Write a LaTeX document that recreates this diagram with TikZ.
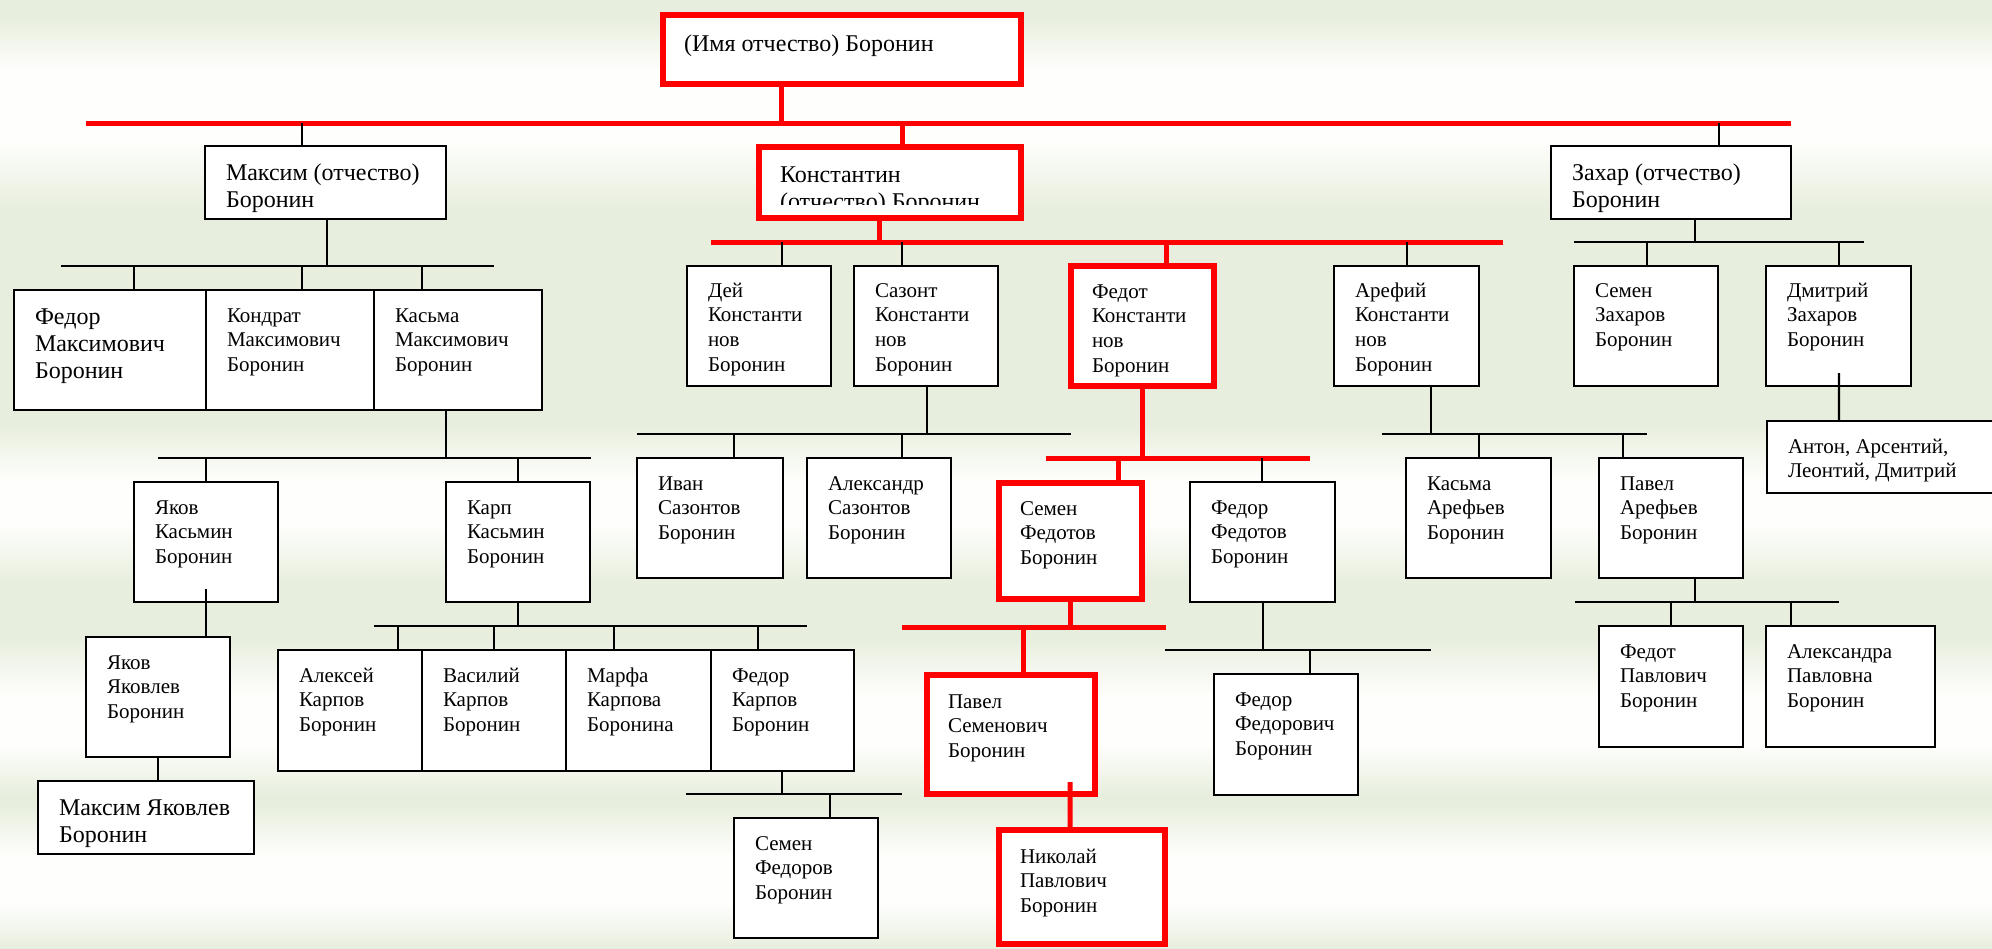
\documentclass[tikz,border=0pt]{standalone}
\usepackage{fontspec}
\setmainfont{Liberation Serif}
\definecolor{bggreen}{RGB}{231,238,221}
\definecolor{bglight}{RGB}{242,246,236}
\definecolor{bgwhite}{RGB}{254,254,252}
\newlength{\padl}
\setlength{\padl}{10.5bp}
% box text: width, height, first baseline, lines
\newcommand{\who}[4]{\parbox[c][#2][t]{#1}{\raggedright\leftskip=\padl
  \vspace*{\dimexpr#3-\ht\strutbox\relax}\strut#4}}
\begin{document}
\begin{tikzpicture}[
  person/.style={draw=black,line width=1.1bp,fill=white,inner sep=0pt,outer sep=0pt,
    anchor=north west,font=\fontsize{10.5bp}{12.4bp}\selectfont},
  heir/.style={person,draw=red,line width=3bp},
  big/.style={font=\fontsize{12bp}{13.6bp}\selectfont},
  kin/.style={black,line width=1.1bp},
  heirline/.style={red,line width=2.5bp},
  rampdown/.style={top color=bggreen,bottom color=bgwhite},
  rampup/.style={top color=bgwhite,bottom color=bggreen},
]
\useasboundingbox (0bp,0bp) rectangle (996bp,-474.5bp);
\clip (0bp,0bp) rectangle (996bp,-474.5bp);
%% background
\fill [bggreen] (0bp,0bp) rectangle (996bp,-474.5bp);
\shade [rampdown] (0bp,-8bp) rectangle (996bp,-35bp);
\fill [bgwhite] (0bp,-34.8bp) rectangle (996bp,-70.2bp);
\shade [rampup] (0bp,-70bp) rectangle (996bp,-105bp);
\shade [top color=bggreen,middle color=bglight,bottom color=bggreen] (0bp,-145bp) rectangle (996bp,-210bp);
\shade [rampdown] (0bp,-212bp) rectangle (996bp,-240bp);
\fill [bgwhite] (0bp,-239.8bp) rectangle (996bp,-262.2bp);
\shade [rampup] (0bp,-262bp) rectangle (996bp,-292bp);
\shade [rampdown] (0bp,-318bp) rectangle (996bp,-348bp);
\fill [bgwhite] (0bp,-347.8bp) rectangle (996bp,-372.2bp);
\shade [rampup] (0bp,-372bp) rectangle (996bp,-398bp);
\shade [rampdown] (0bp,-402bp) rectangle (996bp,-428bp);
\fill [bgwhite] (0bp,-427.8bp) rectangle (996bp,-452.2bp);
\shade [rampup] (0bp,-452bp) rectangle (996bp,-474.5bp);
%%
\node (node_root) at (331.5bp,-7.5bp) [heir,big] {\who{179bp}{34.5bp}{18bp}{(Имя отчество) Боронин}};
%
\node (node_maksim) at (102.5bp,-73bp) [person,big] {\who{120.5bp}{36.5bp}{17bp}{Максим (отчество)\\Боронин}};
\node (node_konst) at (379.5bp,-73.5bp) [heir,big] {\who{131bp}{35.5bp}{17.5bp}{Константин\\(отчество) Боронин}};
\node (node_zakhar) at (775.5bp,-73bp) [person,big] {\who{120bp}{36.5bp}{17bp}{Захар (отчество)\\Боронин}};
\fill [white] ([shift={(1.5bp,1.5bp)}]node_konst.south west) rectangle ([shift={(-1.5bp,6.5bp)}]node_konst.south east);
%
\node (node_fedor_m) at (7bp,-145bp) [person,big] {\who{96bp}{60bp}{17bp}{Федор\\Максимович\\Боронин}};
\node (node_kondrat) at (103bp,-145bp) [person] {\who{84bp}{60bp}{16bp}{Кондрат\\Максимович\\Боронин}};
\node (node_kasma_m) at (187bp,-145bp) [person] {\who{84bp}{60bp}{16bp}{Касьма\\Максимович\\Боронин}};
\node (node_dey) at (343.5bp,-133bp) [person] {\who{72bp}{60bp}{15.5bp}{Дей\\Константи\\нов\\Боронин}};
\node (node_sazont) at (427bp,-133bp) [person] {\who{72bp}{60bp}{15.5bp}{Сазонт\\Константи\\нов\\Боронин}};
\node (node_fedot_k) at (535.5bp,-133bp) [heir] {\who{71.5bp}{60bp}{16bp}{Федот\\Константи\\нов\\Боронин}};
\node (node_arefiy) at (667bp,-133bp) [person] {\who{72.5bp}{60bp}{15.5bp}{Арефий\\Константи\\нов\\Боронин}};
\node (node_semen_z) at (787bp,-133bp) [person] {\who{72bp}{60bp}{15.5bp}{Семен\\Захаров\\Боронин}};
\node (node_dmitriy_z) at (883bp,-133bp) [person] {\who{72.5bp}{60bp}{15.5bp}{Дмитрий\\Захаров\\Боронин}};
%
\node (node_yakov_k) at (67bp,-241bp) [person] {\who{72bp}{60bp}{16bp}{Яков\\Касьмин\\Боронин}};
\node (node_karp_k) at (223bp,-241bp) [person] {\who{72bp}{60bp}{16bp}{Карп\\Касьмин\\Боронин}};
\node (node_ivan) at (318.5bp,-229bp) [person] {\who{73bp}{60bp}{16bp}{Иван\\Сазонтов\\Боронин}};
\node (node_aleksandr) at (403.5bp,-229bp) [person] {\who{72bp}{60bp}{16bp}{Александр\\Сазонтов\\Боронин}};
\node (node_semen_f) at (499.5bp,-241.5bp) [heir] {\who{71.5bp}{58bp}{16bp}{Семен\\Федотов\\Боронин}};
\node (node_fedor_f) at (595bp,-241bp) [person] {\who{72.5bp}{60bp}{16bp}{Федор\\Федотов\\Боронин}};
\node (node_kasma_a) at (703bp,-229bp) [person] {\who{72.5bp}{60bp}{16bp}{Касьма\\Арефьев\\Боронин}};
\node (node_pavel_a) at (799.5bp,-229bp) [person] {\who{72bp}{60bp}{16bp}{Павел\\Арефьев\\Боронин}};
\node (node_anton) at (883.5bp,-210.5bp) [person] {\who{125bp}{36bp}{16bp}{Антон, Арсентий,\\Леонтий, Дмитрий}};
%
\node (node_yakov_y) at (43bp,-318.5bp) [person] {\who{72bp}{60bp}{16bp}{Яков\\Яковлев\\Боронин}};
\node (node_aleksey) at (139bp,-325bp) [person] {\who{72bp}{60.5bp}{16bp}{Алексей\\Карпов\\Боронин}};
\node (node_vasiliy) at (211bp,-325bp) [person] {\who{72bp}{60.5bp}{16bp}{Василий\\Карпов\\Боронин}};
\node (node_marfa) at (283bp,-325bp) [person] {\who{72.5bp}{60.5bp}{16bp}{Марфа\\Карпова\\Боронина}};
\node (node_fedor_kp) at (355.5bp,-325bp) [person] {\who{71.5bp}{60.5bp}{16bp}{Федор\\Карпов\\Боронин}};
\node (node_pavel_s) at (463.5bp,-337.5bp) [heir] {\who{84bp}{59.5bp}{16.5bp}{Павел\\Семенович\\Боронин}};
\node (node_fedor_fed) at (607bp,-337bp) [person] {\who{72bp}{60.5bp}{16bp}{Федор\\Федорович\\Боронин}};
\node (node_fedot_p) at (799.5bp,-313bp) [person] {\who{72bp}{60.5bp}{16bp}{Федот\\Павлович\\Боронин}};
\node (node_aleksandra) at (883bp,-313bp) [person] {\who{84.5bp}{60.5bp}{16bp}{Александра\\Павловна\\Боронин}};
%
\node (node_maksim_ya) at (19bp,-390.5bp) [person,big] {\who{108bp}{36.5bp}{17bp}{Максим Яковлев\\Боронин}};
\node (node_semen_fed) at (367bp,-409bp) [person] {\who{72bp}{60bp}{16bp}{Семен\\Федоров\\Боронин}};
\node (node_nikolay) at (499.5bp,-415bp) [heir] {\who{83bp}{57bp}{16.5bp}{Николай\\Павлович\\Боронин}};
%%
\coordinate (bus_root_w) at (43bp,-61.5bp);
\coordinate (bus_root_e) at (895.5bp,-61.5bp);
\draw [heirline] (bus_root_w) -- (bus_root_e);
\draw [heirline] ([xshift=59bp]node_root.south west) -- ++(0bp,-19.5bp);
\draw [kin] ([xshift=48.5bp]node_maksim.north west) -- ++(0bp,11.5bp);
\draw [heirline] ([xshift=71.5bp]node_konst.north west) -- ++(0bp,12bp);
\draw [kin] ([xshift=84bp]node_zakhar.north west) -- ++(0bp,11.5bp);
%
\coordinate (bus_maksim_w) at (30.5bp,-133bp);
\coordinate (bus_maksim_e) at (247bp,-133bp);
\draw [kin] (bus_maksim_w) -- (bus_maksim_e);
\draw [kin] ([xshift=61bp]node_maksim.south west) -- ++(0bp,-23.5bp);
\draw [kin] ([xshift=60bp]node_fedor_m.north west) -- ++(0bp,12bp);
\draw [kin] ([xshift=48bp]node_kondrat.north west) -- ++(0bp,12bp);
\draw [kin] ([xshift=24bp]node_kasma_m.north west) -- ++(0bp,12bp);
%
\coordinate (bus_konst_w) at (355.5bp,-121bp);
\coordinate (bus_konst_e) at (751.5bp,-121bp);
\draw [heirline] (bus_konst_w) -- (bus_konst_e);
\draw [heirline] ([xshift=60bp]node_konst.south west) -- ++(0bp,-12bp);
\draw [kin] ([xshift=47.5bp]node_dey.north west) -- ++(0bp,12bp);
\draw [kin] ([xshift=24bp]node_sazont.north west) -- ++(0bp,12bp);
\draw [heirline] ([xshift=47.5bp]node_fedot_k.north west) -- ++(0bp,12bp);
\draw [kin] ([xshift=36.5bp]node_arefiy.north west) -- ++(0bp,12bp);
%
\coordinate (bus_zakhar_w) at (787bp,-121bp);
\coordinate (bus_zakhar_e) at (932bp,-121bp);
\draw [kin] (bus_zakhar_w) -- (bus_zakhar_e);
\draw [kin] ([xshift=72bp]node_zakhar.south west) -- ++(0bp,-11.5bp);
\draw [kin] ([xshift=36.5bp]node_semen_z.north west) -- ++(0bp,12bp);
\draw [kin] ([xshift=36.5bp]node_dmitriy_z.north west) -- ++(0bp,12bp);
\draw [kin] ([shift={(36.5bp,6.5bp)}]node_dmitriy_z.south west) -- ([xshift=36bp]node_anton.north west);
%
\coordinate (bus_kasma_w) at (79bp,-229bp);
\coordinate (bus_kasma_e) at (295.5bp,-229bp);
\draw [kin] (bus_kasma_w) -- (bus_kasma_e);
\draw [kin] ([xshift=36bp]node_kasma_m.south west) -- ++(0bp,-24bp);
\draw [kin] ([xshift=36bp]node_yakov_k.north west) -- ++(0bp,12bp);
\draw [kin] ([xshift=36bp]node_karp_k.north west) -- ++(0bp,12bp);
\draw [kin] ([shift={(36bp,6.5bp)}]node_yakov_k.south west) -- ([xshift=60bp]node_yakov_y.north west);
\draw [kin] ([xshift=36bp]node_yakov_y.south west) -- ([xshift=60bp]node_maksim_ya.north west);
%
\coordinate (bus_karp_w) at (187bp,-313bp);
\coordinate (bus_karp_e) at (403.5bp,-313bp);
\draw [kin] (bus_karp_w) -- (bus_karp_e);
\draw [kin] ([xshift=36bp]node_karp_k.south west) -- ++(0bp,-12bp);
\draw [kin] ([xshift=60bp]node_aleksey.north west) -- ++(0bp,12bp);
\draw [kin] ([xshift=36bp]node_vasiliy.north west) -- ++(0bp,12bp);
\draw [kin] ([xshift=24bp]node_marfa.north west) -- ++(0bp,12bp);
\draw [kin] ([xshift=23.5bp]node_fedor_kp.north west) -- ++(0bp,12bp);
\coordinate (bus_fedor_kp_w) at (343bp,-397bp);
\coordinate (bus_fedor_kp_e) at (451bp,-397bp);
\draw [kin] (bus_fedor_kp_w) -- (bus_fedor_kp_e);
\draw [kin] ([xshift=35.5bp]node_fedor_kp.south west) -- ++(0bp,-11.5bp);
\draw [kin] ([xshift=48bp]node_semen_fed.north west) -- ++(0bp,12bp);
%
\coordinate (bus_sazont_w) at (318.5bp,-217bp);
\coordinate (bus_sazont_e) at (535.5bp,-217bp);
\draw [kin] (bus_sazont_w) -- (bus_sazont_e);
\draw [kin] ([xshift=36.5bp]node_sazont.south west) -- ++(0bp,-24bp);
\draw [kin] ([xshift=48.5bp]node_ivan.north west) -- ++(0bp,12bp);
\draw [kin] ([xshift=47.5bp]node_aleksandr.north west) -- ++(0bp,12bp);
%
\coordinate (bus_fedot_w) at (523bp,-229bp);
\coordinate (bus_fedot_e) at (655bp,-229bp);
\draw [heirline] (bus_fedot_w) -- (bus_fedot_e);
\draw [heirline] ([xshift=35.5bp]node_fedot_k.south west) -- ++(0bp,-36bp);
\draw [heirline] ([xshift=59.5bp]node_semen_f.north west) -- ++(0bp,12.5bp);
\draw [kin] ([xshift=36bp]node_fedor_f.north west) -- ++(0bp,12bp);
\coordinate (bus_semen_w) at (451bp,-313.5bp);
\coordinate (bus_semen_e) at (583bp,-313.5bp);
\draw [heirline] (bus_semen_w) -- (bus_semen_e);
\draw [heirline] ([xshift=35.5bp]node_semen_f.south west) -- ++(0bp,-14bp);
\draw [heirline] ([xshift=48bp]node_pavel_s.north west) -- ++(0bp,24bp);
\draw [heirline] ([shift={(71.5bp,6bp)}]node_pavel_s.south west) -- ([xshift=35.5bp]node_nikolay.north west);
\coordinate (bus_fedor_w) at (582.5bp,-325bp);
\coordinate (bus_fedor_e) at (715.5bp,-325bp);
\draw [kin] (bus_fedor_w) -- (bus_fedor_e);
\draw [kin] ([xshift=36.5bp]node_fedor_f.south west) -- ++(0bp,-24bp);
\draw [kin] ([xshift=48bp]node_fedor_fed.north west) -- ++(0bp,12bp);
%
\coordinate (bus_arefiy_w) at (691bp,-217bp);
\coordinate (bus_arefiy_e) at (823.5bp,-217bp);
\draw [kin] (bus_arefiy_w) -- (bus_arefiy_e);
\draw [kin] ([xshift=48.5bp]node_arefiy.south west) -- ++(0bp,-24bp);
\draw [kin] ([xshift=36.5bp]node_kasma_a.north west) -- ++(0bp,12bp);
\draw [kin] ([xshift=12bp]node_pavel_a.north west) -- ++(0bp,12bp);
\coordinate (bus_pavel_w) at (787.5bp,-301bp);
\coordinate (bus_pavel_e) at (919.5bp,-301bp);
\draw [kin] (bus_pavel_w) -- (bus_pavel_e);
\draw [kin] ([xshift=48bp]node_pavel_a.south west) -- ++(0bp,-12bp);
\draw [kin] ([xshift=36bp]node_fedot_p.north west) -- ++(0bp,12bp);
\draw [kin] ([xshift=12.5bp]node_aleksandra.north west) -- ++(0bp,12bp);
%
\end{tikzpicture}
\end{document}
